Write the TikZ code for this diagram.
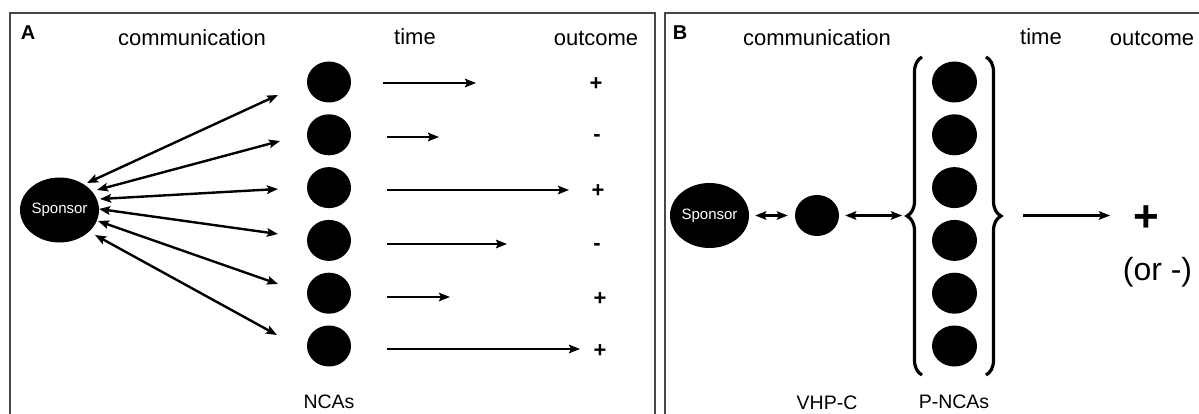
\documentclass[tikz,border=0pt]{standalone}
\usepackage{fontspec}
\setmainfont{Liberation Sans}
\usetikzlibrary{arrows.meta,shapes.geometric,decorations.pathreplacing}
\begin{document}
\begin{tikzpicture}[x=1pt,y=-1pt,
  dot/.style={ellipse,fill=black,inner sep=0pt,minimum width=44pt,minimum height=41pt},
  spons/.style={ellipse,fill=black,inner sep=0pt,minimum width=75pt,minimum height=65pt,text=white,font=\fontsize{15}{17}\selectfont},
  head/.style={font=\fontsize{22}{26}\selectfont,anchor=base,inner sep=0pt},
  lab/.style={font=\fontsize{19.5}{22}\selectfont,anchor=base,inner sep=0pt},
  panel/.style={font=\bfseries\fontsize{20}{22}\selectfont,inner sep=0pt},
  sign/.style={font=\bfseries\fontsize{22}{24}\selectfont,anchor=base,inner sep=0pt},
  tip/.tip={Stealth[length=11pt,width=8.5pt,inset=2pt]},
  link/.style={line width=2.4pt,tip-tip},
  flow/.style={line width=2.4pt,-tip},
  frame/.style={draw=black!72,line width=1.6pt},
  bracestyle/.style={line width=3.2pt,decorate,decoration={brace,amplitude=15pt}}
]
\useasboundingbox (0,0) rectangle (1199,414);
% frames
\draw[frame] (10,13) rectangle (655,430);
\draw[frame] (665,13) rectangle (1215,430);

% ---------- Panel A ----------
\node[panel] (pA) at (28,33) {A};
\node[head] (comA) at (192,46) {communication};
\node[head] (timeA) at (415,45) {time};
\node[head] (outA) at (596,46) {outcome};

\node[spons] (sA) at (59.5,210) {Sponsor};
\foreach \i in {1,...,6}{
  \node[dot] (n\i) at (329,{82+52.8*(\i-1)}) {};
}
\node[lab] (ncas) at (329,408) {NCAs};

% communication arrows
\coordinate (l1) at (87,183);  \coordinate (r1) at (278,95);
\coordinate (l2) at (97,190);  \coordinate (r2) at (280,141);
\coordinate (l3) at (100,199); \coordinate (r3) at (278,189);
\coordinate (l4) at (99,209);  \coordinate (r4) at (278,234);
\coordinate (l5) at (98,221);  \coordinate (r5) at (278,284);
\coordinate (l6) at (95,235);  \coordinate (r6) at (277,335);
\foreach \i in {1,...,6}{ \draw[link] (l\i) -- (r\i); }

% time arrows
\coordinate (ta1) at (383,83);  \coordinate (tb1) at (476,83);
\coordinate (ta2) at (387,137); \coordinate (tb2) at (439,137);
\coordinate (ta3) at (387,190); \coordinate (tb3) at (569,190);
\coordinate (ta4) at (387,244); \coordinate (tb4) at (507,244);
\coordinate (ta5) at (387,297); \coordinate (tb5) at (450,297);
\coordinate (ta6) at (387,349); \coordinate (tb6) at (580,349);
\foreach \i in {1,...,6}{ \draw[flow] (ta\i) -- (tb\i); }

% outcomes
\node[sign] (o1) at (596,91) {+};
\node[sign] (o2) at (597,142) {-};
\node[sign] (o3) at (598,198) {+};
\node[sign] (o4) at (597,250) {-};
\node[sign] (o5) at (600,305) {+};
\node[sign] (o6) at (600,357) {+};

% ---------- Panel B ----------
\node[panel] (pB) at (680,33) {B};
\node[head] (comB) at (817,46) {communication};
\node[head] (timeB) at (1041,45) {time};
\node[head] (outB) at (1152,46) {outcome};

\node[spons,minimum width=73pt] (sB) at (709.5,215.5) {Sponsor};
\node[dot] (vB) at (817,215.5) {};
\node[lab] (vhpc) at (827,409) {VHP-C};

\foreach \i in {1,...,6}{
  \node[dot,minimum width=45pt] (p\i) at (954.5,{82+52.8*(\i-1)}) {};
}
\node[lab] (pncas) at (954,408) {P-NCAs};

\draw[bracestyle] (922,375) -- (922,57);
\draw[bracestyle] (986,57) -- (986,375);
\coordinate (lbt) at (907,215.5);
\coordinate (rbt) at (1001,215.5);

\draw[link,shorten <=6pt,shorten >=7pt] (sB) -- (vB);
\draw[link,shorten <=6pt,shorten >=5pt] (vB) -- (lbt);
\coordinate (tB1) at (1023,215.5);
\coordinate (tB2) at (1110,215.5);
\draw[flow] (tB1) -- (tB2);

\node[font=\bfseries\fontsize{44}{48}\selectfont,anchor=base,inner sep=0pt] (plusB) at (1146,231) {+};
\node[font=\fontsize{32}{36}\selectfont,anchor=base,inner sep=0pt] (orm) at (1157.5,280) {(or -)};
\end{tikzpicture}
\end{document}
